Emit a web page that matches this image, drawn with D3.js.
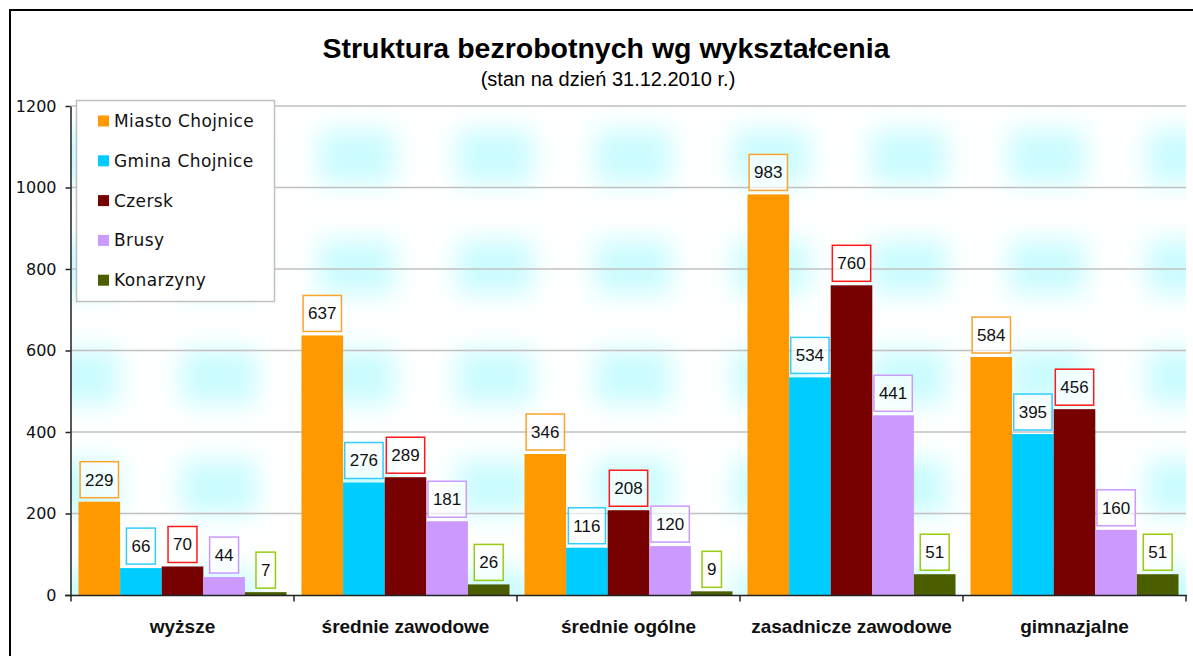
<!DOCTYPE html>
<html>
<head>
<meta charset="utf-8">
<script src="https://cdn.jsdelivr.net/npm/d3@7"></script>
<style>
  body { margin: 0; background: #fff; }
  svg { display: block; }
</style>
</head>
<body>
<div id="chart"></div>
<script>
// dane
var categories = ["wyższe", "średnie zawodowe", "średnie ogólne", "zasadnicze zawodowe", "gimnazjalne"]
var seriesNames = ["Miasto Chojnice", "Gmina Chojnice", "Czersk", "Brusy", "Konarzyny"]
var miastoChojnice = [229, 637, 346, 983, 584]
var gminaChojnice = [66, 276, 116, 534, 395]
var czersk = [70, 289, 208, 760, 456]
var brusy = [44, 181, 120, 441, 160]
var konarzyny = [7, 26, 9, 51, 51]
var yTicks = [0, 200, 400, 600, 800, 1000, 1200]

var seriesValues = [miastoChojnice, gminaChojnice, czersk, brusy, konarzyny]
var barColors = ["#FF9900", "#00CCFF", "#770000", "#CC99FF", "#4A5E00"]
var boxColors = ["#F9A42C", "#33CCFF", "#FF1A1A", "#CC99FF", "#99CC11"]

var W = 1193, H = 656
var plot = { left: 71, right: 1186, top: 106, bottom: 595 }

var svg = d3.select('#chart').append('svg')
  .attr('width', W)
  .attr('height', H)

// tlo - rozmyte plamy
var defs = svg.append('defs')
defs.append('filter').attr('id', 'soft')
  .attr('x', '-50%').attr('y', '-50%').attr('width', '200%').attr('height', '200%')
  .append('feGaussianBlur').attr('stdDeviation', 13)
var pat = defs.append('pattern')
  .attr('id', 'tex')
  .attr('patternUnits', 'userSpaceOnUse')
  .attr('x', 12).attr('y', 102)
  .attr('width', 138).attr('height', 110)
pat.append('rect').attr('width', 138).attr('height', 110).attr('fill', '#fff')
pat.append('rect')
  .attr('x', 31).attr('y', 28).attr('width', 76).attr('height', 54)
  .attr('fill', '#B8FBFF')
  .attr('opacity', 0.75)
  .attr('filter', 'url(#soft)')

// ramka wykresu
svg.append('rect')
  .attr('x', 10).attr('y', 10)
  .attr('width', 1300).attr('height', 800)
  .attr('fill', 'none')
  .attr('stroke', '#000')
  .attr('stroke-width', 2)

var x0 = d3.scaleBand().domain(categories).range([plot.left, plot.right]).padding(0)
var x1 = d3.scaleBand().domain(d3.range(seriesNames.length)).range([0, x0.bandwidth()]).paddingInner(0).paddingOuter(0.18)
var y = d3.scaleLinear().domain([0, 1200]).range([plot.bottom, plot.top])

svg.append('rect')
  .attr('x', plot.left).attr('y', plot.top)
  .attr('width', plot.right - plot.left).attr('height', plot.bottom - plot.top)
  .attr('fill', 'url(#tex)')

// linie siatki
svg.append('g').selectAll('line')
  .data(yTicks.filter(function (d) { return d > 0 }))
  .enter().append('line')
  .attr('x1', plot.left).attr('x2', plot.right)
  .attr('y1', function (d) { return y(d) }).attr('y2', function (d) { return y(d) })
  .attr('stroke', '#C0C0C0')
  .attr('stroke-width', 1.5)

// os Y
var yAxis = d3.axisLeft(y).tickValues(yTicks).tickFormat(d3.format('d')).tickSize(5).tickPadding(9).tickSizeOuter(0)
var gy = svg.append('g').attr('transform', 'translate(' + (plot.left - 0.5) + ',0)').call(yAxis)
gy.select('.domain').attr('stroke', '#222').attr('stroke-width', 1.5)
gy.selectAll('.tick line').attr('stroke', '#222').attr('stroke-width', 1.5)
gy.selectAll('.tick text')
  .attr('font-family', 'Verdana, "DejaVu Sans", sans-serif')
  .attr('font-size', '16px')
  .attr('fill', '#111')

// slupki
for (var s = 0; s < seriesNames.length; s++) {
  var g = svg.append('g').attr('class', 'series' + s)
  g.selectAll('rect')
    .data(seriesValues[s])
    .enter().append('rect')
    .attr('x', function (d, i) { return x0(categories[i]) + x1(s) })
    .attr('y', function (d) { return y(d) })
    .attr('width', x1.bandwidth())
    .attr('height', function (d) { return y(0) - y(d) })
    .attr('fill', barColors[s])
}

// os X
var gx = svg.append('g').attr('transform', 'translate(0,' + (plot.bottom + 0.5) + ')')
gx.append('line')
  .attr('x1', plot.left - 6).attr('x2', plot.right + 1)
  .attr('stroke', '#222').attr('stroke-width', 1.5)
var bounds = categories.map(function (c) { return x0(c) }).concat([plot.right])
gx.selectAll('.xt').data(bounds).enter().append('line')
  .attr('class', 'xt')
  .attr('x1', function (d) { return d }).attr('x2', function (d) { return d })
  .attr('y1', 0).attr('y2', 6)
  .attr('stroke', '#222').attr('stroke-width', 1.5)
gx.selectAll('text').data(categories).enter().append('text')
  .attr('x', function (d) { return x0(d) + x0.bandwidth() / 2 })
  .attr('y', 37)
  .attr('text-anchor', 'middle')
  .attr('font-family', 'Arial, "Liberation Sans", sans-serif')
  .attr('font-weight', 'bold')
  .attr('font-size', '19px')
  .attr('fill', '#111')
  .text(function (d) { return d })

// etykiety danych w ramkach
for (var s = 0; s < seriesNames.length; s++) {
  var lg = svg.append('g').attr('class', 'labels' + s)
  var items = lg.selectAll('g')
    .data(seriesValues[s])
    .enter().append('g')
  items.append('rect')
  items.append('text')
    .attr('x', function (d, i) { return x0(categories[i]) + x1(s) + x1.bandwidth() / 2 })
    .attr('y', function (d) { return y(d) - 22 })
    .attr('dy', '0.35em')
    .attr('text-anchor', 'middle')
    .attr('font-family', 'Arial, "Liberation Sans", sans-serif')
    .attr('font-size', '17px')
    .attr('fill', '#111')
    .text(function (d) { return d })
  items.each(function (d) {
    var t = d3.select(this).select('text').node()
    var bb = t.getBBox()
    d3.select(this).select('rect')
      .attr('x', bb.x - 5)
      .attr('y', y(d) - 40)
      .attr('width', bb.width + 10)
      .attr('height', 36)
      .attr('fill', 'rgba(255,255,255,0.65)')
      .attr('stroke', boxColors[s])
      .attr('stroke-width', 1.5)
  })
}

// legenda
var leg = svg.append('g').attr('transform', 'translate(76,100)')
leg.append('rect')
  .attr('x', 0.5).attr('y', 0.5)
  .attr('width', 198).attr('height', 201)
  .attr('fill', '#fff')
  .attr('stroke', '#C0C0C0')
  .attr('stroke-width', 1.5)
var li = leg.selectAll('.li').data(seriesNames).enter().append('g')
  .attr('class', 'li')
  .attr('transform', function (d, i) { return 'translate(22,' + (21 + i * 39.8) + ')' })
li.append('rect')
  .attr('x', 0).attr('y', -5.5)
  .attr('width', 11).attr('height', 11)
  .attr('fill', function (d, i) { return barColors[i] })
li.append('text')
  .attr('x', 16).attr('y', 0)
  .attr('dy', '0.35em')
  .attr('font-family', 'Verdana, "DejaVu Sans", sans-serif')
  .attr('font-size', '17px')
  .attr('letter-spacing', '0.4px')
  .attr('fill', '#111')
  .text(function (d) { return d })

// tytul
svg.append('text')
  .attr('x', 606).attr('y', 58)
  .attr('text-anchor', 'middle')
  .attr('font-family', 'Arial, "Liberation Sans", sans-serif')
  .attr('font-weight', 'bold')
  .attr('font-size', '28.5px')
  .attr('fill', '#000')
  .text('Struktura bezrobotnych wg wykształcenia')
svg.append('text')
  .attr('x', 608).attr('y', 86)
  .attr('text-anchor', 'middle')
  .attr('font-family', 'Arial, "Liberation Sans", sans-serif')
  .attr('font-size', '20px')
  .attr('fill', '#000')
  .text('(stan na dzień 31.12.2010 r.)')
</script>
</body>
</html>
